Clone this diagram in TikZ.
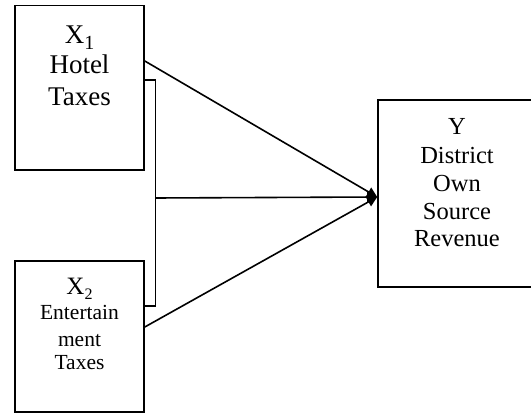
\documentclass[tikz,border=0pt]{standalone}
\usepackage{fontspec}
\setmainfont{Liberation Serif}
\usetikzlibrary{arrows.meta}
\newcommand{\mysub}[2]{#1\raisebox{-0.22em}{\fontsize{#2}{#2}\selectfont}}
\begin{document}
\begin{tikzpicture}[x=1pt,y=-1pt,
  box/.style={draw,line width=1.6pt,rectangle,inner sep=0pt},
  conn/.style={line width=1.6pt},
  arr/.style={line width=1.6pt,-{Triangle[length=10pt,width=10pt]}},
  lbl/.style={anchor=base,inner sep=0pt}]
\useasboundingbox (0,0) rectangle (531,414);
\clip (0,0) rectangle (531,414);
\fill[white] (0,0) rectangle (531,414);
% boxes
\node[box,minimum width=129pt,minimum height=164.5pt] (x1) at (79.5,87.75) {};
\node[box,minimum width=129pt,minimum height=151.5pt] (x2) at (79.5,336.5) {};
\node[box,minimum width=158pt,minimum height=187pt] (yb) at (457,193.5) {};
% texts
\node[lbl,font=\fontsize{27}{27}\selectfont] (t1a) at (79.5,44) {X\raisebox{-0.2em}{\fontsize{20}{20}\selectfont 1}};
\node[lbl,font=\fontsize{27}{27}\selectfont] (t1b) at (79.5,73.5) {Hotel};
\node[lbl,font=\fontsize{27}{27}\selectfont] (t1c) at (79.5,106) {Taxes};
\node[lbl,font=\fontsize{25}{25}\selectfont] (t2a) at (79.5,295) {X\raisebox{-0.2em}{\fontsize{16}{16}\selectfont 2}};
\node[lbl,font=\fontsize{21.5}{21.5}\selectfont] (t2b) at (79.5,320) {Entertain};
\node[lbl,font=\fontsize{21.5}{21.5}\selectfont] (t2c) at (79.5,346.5) {ment};
\node[lbl,font=\fontsize{21.5}{21.5}\selectfont] (t2d) at (79.5,370) {Taxes};
\node[lbl,font=\fontsize{24.5}{24.5}\selectfont] (t3a) at (457,135) {Y};
\node[lbl,font=\fontsize{24.5}{24.5}\selectfont] (t3b) at (457,164) {District};
\node[lbl,font=\fontsize{24.5}{24.5}\selectfont] (t3c) at (457,192) {Own};
\node[lbl,font=\fontsize{24.5}{24.5}\selectfont] (t3d) at (457,219.5) {Source};
\node[lbl,font=\fontsize{24.5}{24.5}\selectfont] (t3e) at (457,247) {Revenue};
% connector points
\coordinate (a1) at (x1.east |- 0,61);
\coordinate (a2) at (x2.east |- 0,327);
\coordinate (tip) at (yb.west |- 0,197);
\coordinate (b1) at (x1.east |- 0,80);
\coordinate (b2) at (x2.east |- 0,306);
\coordinate (bt) at (155.5,80);
\coordinate (bb) at (155.5,306);
\coordinate (bm) at (155.5,198);
% bracket
\draw[conn] (b1) -- (bt) -- (bb) -- (b2);
% arrows
\draw[arr] (a1) -- (tip);
\draw[arr] (a2) -- (tip);
\draw[arr] (bm) -- (tip);
\end{tikzpicture}
\end{document}
